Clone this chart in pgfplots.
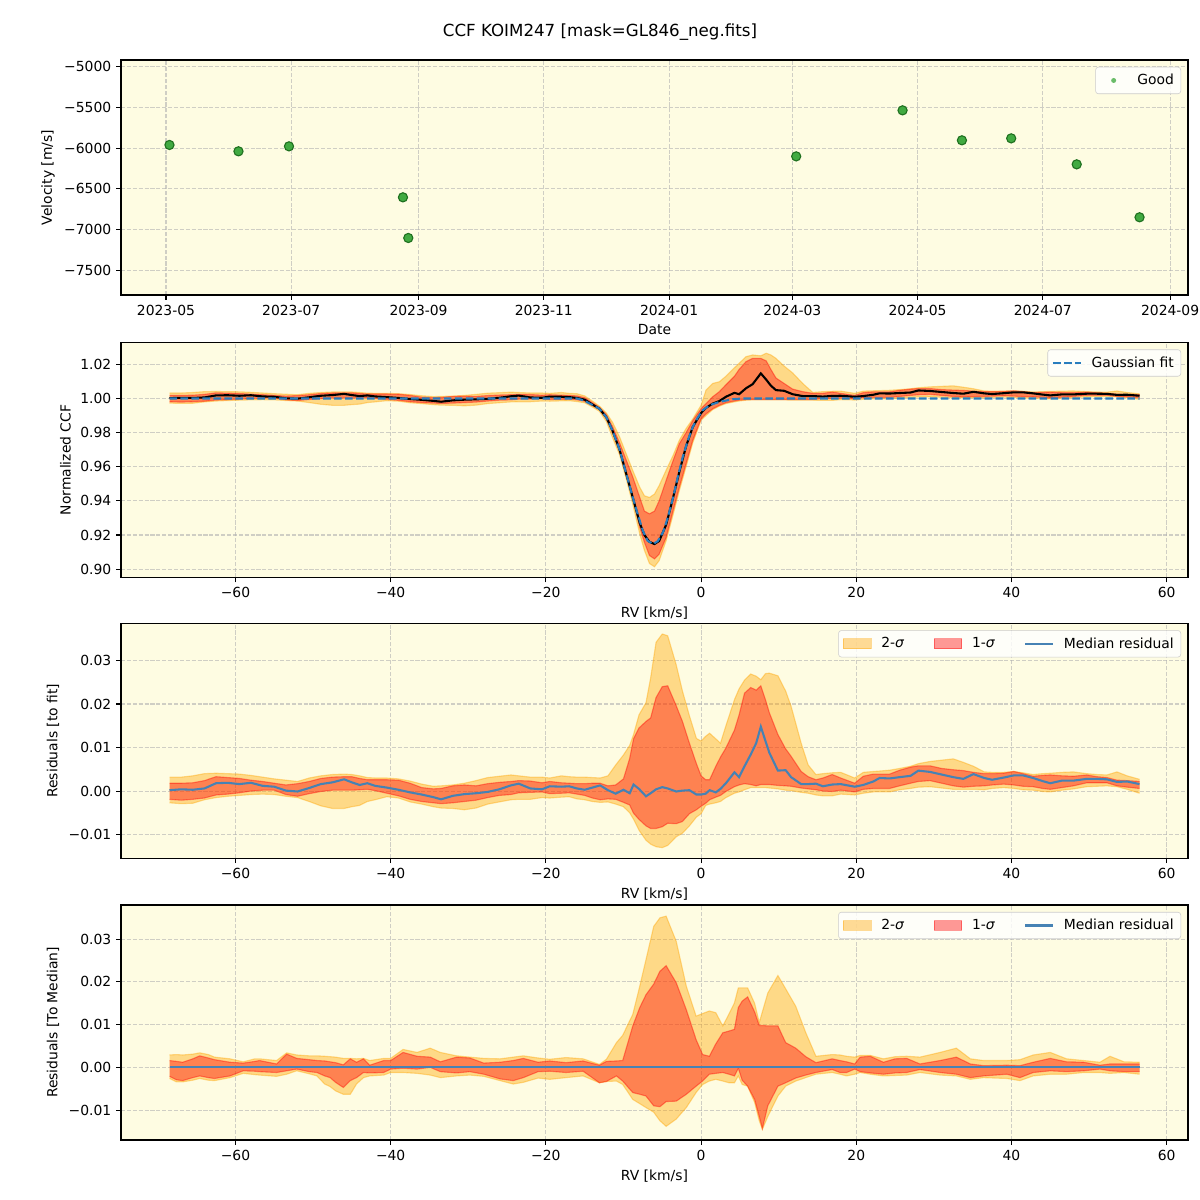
\documentclass[border=0pt]{standalone}
\usepackage{fontspec}
\setmainfont{DejaVu Sans}
\usepackage{pgfplots}
\pgfplotsset{compat=1.18}
\usepgfplotslibrary{fillbetween}
\usepackage{pgfplotstable}

\definecolor{bgc}{RGB}{254,252,226}
\definecolor{gridc}{RGB}{176,176,176}
\definecolor{bandO}{RGB}{255,165,0}
\definecolor{bandR}{RGB}{255,0,0}
\definecolor{medc}{RGB}{70,130,180}
\definecolor{fitc}{RGB}{40,125,190}
\definecolor{ptc}{RGB}{44,160,44}

\newcommand{\tf}{\fontsize{10}{12}\selectfont}

\pgfplotsset{
  panel/.style={
    scale only axis, width=768.24pt, height=169.2pt, anchor=south west,
    axis background/.style={fill=bgc},
    grid=major,
    major grid style={gridc, dash pattern=on 2.96pt off 1.28pt, line width=0.8pt, opacity=0.6},
    axis line style={line width=0.8pt},
    tick style={black, line width=0.8pt},
    major tick length=3.5pt,
    tick align=outside,
    tick pos=left,
    scaled y ticks=false, scaled x ticks=false,
    ticklabel style={font=\tf},
    label style={font=\tf},
    legend style={font=\tf, draw=black!20, fill=white, fill opacity=0.8, text opacity=1,
      rounded corners=2pt, at={(1,1)}, anchor=north east, xshift=-5pt, yshift=-5pt,
      inner sep=3pt,
      /tikz/every odd column/.append style={column sep=5pt}},
    legend cell align=left,
  },
  rvpanel/.style={
    panel, xmin=-74.75, xmax=62.75,
    xtick={-60,-40,-20,0,20,40,60},
    xticklabels={−60,−40,−20,0,20,40,60},
    xlabel={RV [km/s]},
  },
  band2/.style={bandO, draw opacity=0.4, line width=0.8pt, forget plot},
  band1/.style={bandR, draw opacity=0.4, line width=0.8pt, forget plot},
}

% Panel 2: CCF median and percentile bands
\pgfplotstableread{
x med lo1 hi1 lo2 hi2
-68.5 1.0002 0.9981 1.0018 0.9973 1.0032
-67 1.0004 0.9979 1.0018 0.9971 1.0032
-65.5 1.0003 0.9981 1.0019 0.9972 1.0035
-64 1.0006 0.9984 1.0024 0.9980 1.0040
-62.5 1.0018 0.9991 1.0033 0.9985 1.0041
-61 1.0019 0.9993 1.0031 0.9988 1.0040
-59.5 1.0016 0.9996 1.0029 0.9990 1.0039
-58 1.0019 1.0000 1.0025 0.9992 1.0036
-56.5 1.0012 1.0002 1.0022 0.9993 1.0032
-55 1.0010 1.0002 1.0018 0.9992 1.0028
-53.5 1.0001 0.9992 1.0014 0.9988 1.0025
-52 0.9999 0.9988 1.0017 0.9985 1.0022
-50.5 1.0007 0.9994 1.0022 0.9976 1.0030
-49 1.0016 0.9999 1.0029 0.9966 1.0035
-47.5 1.0020 1.0002 1.0032 0.9960 1.0038
-46 1.0027 1.0002 1.0033 0.9960 1.0039
-45 1.0020 1.0002 1.0033 0.9964 1.0038
-44 1.0014 1.0003 1.0029 0.9967 1.0035
-43 1.0018 1.0004 1.0026 0.9976 1.0031
-42 1.0012 1.0001 1.0026 0.9980 1.0030
-40.5 1.0008 0.9995 1.0026 0.9987 1.0030
-39 1.0003 0.9989 1.0025 0.9984 1.0028
-37.5 0.9997 0.9981 1.0018 0.9975 1.0023
-36 0.9992 0.9976 1.0008 0.9970 1.0016
-34.5 0.9986 0.9973 1.0005 0.9964 1.0011
-33.5 0.9981 0.9971 1.0006 0.9961 1.0012
-32 0.9989 0.9973 1.0012 0.9960 1.0014
-30.5 0.9993 0.9976 1.0014 0.9957 1.0018
-29 0.9995 0.9979 1.0012 0.9961 1.0024
-27.5 0.9998 0.9985 1.0017 0.9970 1.0031
-26 1.0004 0.9990 1.0020 0.9975 1.0034
-24.5 1.0013 0.9992 1.0022 0.9980 1.0037
-23.5 1.0017 0.9996 1.0024 0.9981 1.0035
-22 1.0006 0.9997 1.0023 0.9981 1.0032
-20.5 1.0004 0.9998 1.0019 0.9985 1.0032
-19.5 1.0011 0.9994 1.0022 0.9984 1.0030
-18 1.0010 0.9995 1.0019 0.9986 1.0035
-17 1.0008 0.9996 1.0018 0.9987 1.0030
-16 1.0003 0.9992 1.0015 0.9982 1.0028
-15 0.9993 0.9984 1.0005 0.9975 1.0015
-14 0.9965 0.9958 0.9975 0.9950 0.9985
-13.1 0.9940 0.9935 0.9948 0.9925 0.9955
-12.2 0.9890 0.9880 0.9905 0.9865 0.9915
-11.4 0.9810 0.9800 0.9835 0.9770 0.9860
-10.5 0.9700 0.9690 0.9740 0.9670 0.9775
-9.65 0.9560 0.9550 0.9640 0.9530 0.9676
-8.8 0.9420 0.9415 0.9540 0.9380 0.9578
-7.9 0.9270 0.9245 0.9420 0.9206 0.9480
-7.3 0.9200 0.9157 0.9340 0.9110 0.9430
-6.65 0.9160 0.9080 0.9324 0.9033 0.9420
-6.0 0.9147 0.9060 0.9340 0.9014 0.9440
-5.4 0.9165 0.9088 0.9400 0.9050 0.9490
-4.5 0.9260 0.9186 0.9520 0.9167 0.9580
-3.6 0.9420 0.9343 0.9637 0.9320 0.9667
-2.8 0.9570 0.9480 0.9735 0.9460 0.9755
-1.93 0.9720 0.9618 0.9800 0.9600 0.9824
-1.07 0.9833 0.9755 0.9870 0.9740 0.9880
0 0.9915 0.9880 0.9940 0.9873 0.9960
0.64 0.9945 0.9910 0.9970 0.9900 1.0049
1.5 0.9970 0.9940 1.0010 0.9935 1.0088
2.36 0.9985 0.9960 1.0040 0.9955 1.0098
3.2 1.0010 0.9975 1.0080 0.9970 1.0130
4.3 1.0033 0.9985 1.0130 0.9980 1.0180
4.9 1.0025 0.9990 1.0170 0.9985 1.0206
5.8 1.0060 0.9993 1.0216 0.9990 1.0245
6.65 1.0084 0.9994 1.0235 0.9992 1.0255
7.7 1.0147 0.9994 1.0235 0.9992 1.0250
8.4 1.0110 0.9994 1.0220 0.9992 1.0265
9.0 1.0075 0.9994 1.0170 0.9992 1.0255
9.65 1.0049 0.9994 1.0120 0.9992 1.0235
10.7 1.0045 0.9994 1.0088 0.9992 1.0190
11.8 1.0025 0.9994 1.0055 0.9990 1.0150
13.1 1.0014 0.9994 1.0040 0.9990 1.0088
14.4 1.0014 0.9994 1.0030 0.9990 1.0035
15.7 1.0011 1.0000 1.0030 0.9989 1.0040
16.9 1.0015 0.9999 1.0038 0.9989 1.0042
18 1.0016 1.0002 1.0030 0.9993 1.0043
19.8 1.0010 0.9998 1.0018 0.9991 1.0030
20.9 1.0014 1.0004 1.0034 0.9995 1.0043
22.2 1.0022 1.0006 1.0039 0.9998 1.0045
23 1.0030 1.0006 1.0039 0.9998 1.0046
24.3 1.0029 1.0006 1.0039 0.9998 1.0048
25.6 1.0032 1.0012 1.0048 1.0003 1.0052
27 1.0035 1.0018 1.0055 1.0006 1.0057
28 1.0047 1.0022 1.0058 1.0009 1.0063
29.5 1.0044 1.0024 1.0058 1.0010 1.0068
31 1.0038 1.0018 1.0052 1.0007 1.0071
32.5 1.0032 1.0012 1.0049 1.0004 1.0074
33.8 1.0028 1.0009 1.0047 1.0004 1.0066
35.1 1.0039 1.0011 1.0043 1.0004 1.0057
36.5 1.0030 1.0012 1.0040 1.0003 1.0044
37.5 1.0026 1.0014 1.0040 1.0006 1.0043
39 1.0031 1.0016 1.0041 1.0008 1.0043
40.3 1.0036 1.0014 1.0045 1.0006 1.0045
41.5 1.0036 1.0011 1.0040 1.0003 1.0042
42.8 1.0030 1.0010 1.0034 1.0002 1.0038
44 1.0023 1.0006 1.0036 0.9999 1.0040
45 1.0018 1.0004 1.0037 0.9998 1.0041
46.5 1.0024 1.0008 1.0035 1.0002 1.0043
48 1.0024 1.0012 1.0034 1.0005 1.0044
49.7 1.0028 1.0019 1.0037 1.0010 1.0040
51 1.0028 1.0019 1.0033 1.0011 1.0038
52.3 1.0027 1.0019 1.0031 1.0012 1.0037
53.6 1.0021 1.0012 1.0025 1.0010 1.0044
54.9 1.0022 1.0009 1.0024 1.0004 1.0035
56.5 1.0016 1.0006 1.0022 0.9995 1.0027
}\ccftab

% Gaussian fit
\pgfplotstableread{
x fit
-68.5 1.0
-16 1.0
-15.2 0.9990
-13.9 0.9960
-13.1 0.9940
-12.2 0.9890
-11.4 0.9810
-10.5 0.9700
-9.65 0.9560
-8.8 0.9420
-8.15 0.9320
-7.5 0.9225
-6.9 0.9167
-6.2 0.9147
-5.6 0.9163
-4.9 0.9216
-4.3 0.9300
-3.6 0.9420
-3.0 0.9540
-2.36 0.9657
-1.7 0.9755
-1.07 0.9833
-0.43 0.9888
0.21 0.9931
1.07 0.9960
2.36 0.9980
4.1 0.9996
5.4 1.0
56.5 1.0
}\fittab

% Panel 3: residuals to fit
\pgfplotstableread{
x med lo1 hi1 lo2 hi2
-68.5 0.0002 -0.0019 0.0018 -0.0027 0.0032
-67 0.0004 -0.0021 0.0018 -0.0029 0.0032
-65.5 0.0003 -0.0019 0.0019 -0.0028 0.0035
-64 0.0006 -0.0016 0.0024 -0.0020 0.0040
-62.5 0.0018 -0.0009 0.0033 -0.0015 0.0041
-61 0.0019 -0.0007 0.0031 -0.0012 0.0040
-59.5 0.0016 -0.0004 0.0029 -0.0010 0.0039
-58 0.0019 0.0000 0.0025 -0.0008 0.0036
-56.5 0.0012 0.0002 0.0022 -0.0007 0.0032
-55 0.0010 0.0002 0.0018 -0.0008 0.0028
-53.5 0.0001 -0.0008 0.0014 -0.0012 0.0025
-52 -0.0001 -0.0012 0.0017 -0.0015 0.0022
-50.5 0.0007 -0.0006 0.0022 -0.0024 0.0030
-49 0.0016 -0.0001 0.0029 -0.0034 0.0035
-47.5 0.0020 0.0002 0.0032 -0.0040 0.0038
-46 0.0027 0.0002 0.0033 -0.0040 0.0039
-45 0.0020 0.0002 0.0033 -0.0036 0.0038
-44 0.0014 0.0003 0.0029 -0.0033 0.0035
-43 0.0018 0.0004 0.0026 -0.0024 0.0031
-42 0.0012 0.0001 0.0026 -0.0020 0.0030
-40.5 0.0008 -0.0005 0.0026 -0.0013 0.0030
-39 0.0003 -0.0011 0.0025 -0.0016 0.0028
-37.5 -0.0003 -0.0019 0.0018 -0.0025 0.0023
-36 -0.0008 -0.0024 0.0008 -0.0030 0.0016
-34.5 -0.0014 -0.0027 0.0005 -0.0036 0.0011
-33.5 -0.0019 -0.0029 0.0006 -0.0039 0.0012
-32 -0.0011 -0.0027 0.0012 -0.0040 0.0014
-30.5 -0.0007 -0.0024 0.0014 -0.0043 0.0018
-29 -0.0005 -0.0021 0.0012 -0.0039 0.0024
-27.5 -0.0002 -0.0015 0.0017 -0.0030 0.0031
-26 0.0004 -0.0010 0.0020 -0.0025 0.0034
-24.5 0.0013 -0.0008 0.0022 -0.0020 0.0037
-23.5 0.0017 -0.0004 0.0024 -0.0019 0.0035
-22 0.0006 -0.0003 0.0023 -0.0019 0.0032
-20.5 0.0004 -0.0002 0.0019 -0.0015 0.0032
-19.5 0.0011 -0.0006 0.0022 -0.0016 0.0030
-18 0.0010 -0.0005 0.0019 -0.0014 0.0035
-17 0.0011 -0.0004 0.0018 -0.0013 0.0033
-16 0.0006 -0.0007 0.0017 -0.0018 0.0032
-15 0.0003 -0.0010 0.0017 -0.0020 0.0032
-14 0.0008 -0.0016 0.0018 -0.0024 0.0031
-13 0.0013 -0.0020 0.0018 -0.0026 0.0030
-12 0.0002 -0.0018 0.0012 -0.0025 0.0035
-11 -0.0006 -0.0019 0.0014 -0.0030 0.0060
-10 0.0003 -0.0026 0.0028 -0.0036 0.0083
-9.2 -0.0005 -0.0032 0.0075 -0.0050 0.0105
-8.7 0.0015 -0.0051 0.0120 -0.0065 0.0130
-8 0.0005 -0.0065 0.0145 -0.0090 0.0175
-7.1 -0.0012 -0.0080 0.0160 -0.0113 0.0203
-6.5 -0.0005 -0.0086 0.0168 -0.0122 0.0260
-5.8 0.0004 -0.0086 0.0215 -0.0128 0.0342
-5 0.0009 -0.0082 0.0240 -0.0130 0.0361
-4.3 0.0006 -0.0074 0.0242 -0.0125 0.0357
-3.2 -0.0001 -0.0075 0.0196 -0.0105 0.0290
-2.4 0.0001 -0.0070 0.0160 -0.0097 0.0230
-1.5 0.0002 -0.0052 0.0110 -0.0080 0.0173
-0.6 -0.0008 -0.0043 0.0063 -0.0060 0.0121
0 -0.0008 -0.0035 0.0035 -0.0052 0.0115
0.6 -0.0006 -0.0028 0.0026 -0.0033 0.0126
1.1 0.0002 -0.0020 0.0026 -0.0030 0.0133
1.9 -0.0003 -0.0014 0.0057 -0.0027 0.0120
2.5 0.0005 -0.0010 0.0078 -0.0024 0.0110
3.2 0.0018 -0.0001 0.0099 -0.0015 0.0150
4.3 0.0043 0.0010 0.0140 -0.0005 0.0210
4.9 0.0032 0.0014 0.0175 -0.0002 0.0235
5.6 0.0057 0.0017 0.0225 0.0003 0.0255
6.4 0.0084 0.0015 0.0238 0.0008 0.0269
7.1 0.0110 0.0012 0.0232 0.0008 0.0264
7.7 0.0148 0.0015 0.0242 0.0008 0.0256
8.3 0.0115 0.0015 0.0210 0.0008 0.0270
8.8 0.0088 0.0015 0.0180 0.0007 0.0271
9.9 0.0047 0.0013 0.0130 0.0005 0.0265
10.9 0.0048 0.0012 0.0097 0.0002 0.0230
11.6 0.0032 0.0011 0.0080 0.0001 0.0195
12.9 0.0016 0.0007 0.0045 -0.0003 0.0110
13.8 0.0016 0.0005 0.0033 -0.0005 0.0060
14.8 0.0017 0.0003 0.0026 -0.0009 0.0038
15.7 0.0011 0.0000 0.0030 -0.0011 0.0040
16.9 0.0015 -0.0001 0.0038 -0.0011 0.0042
18 0.0016 0.0002 0.0030 -0.0007 0.0043
19.8 0.0010 -0.0002 0.0018 -0.0009 0.0030
20.9 0.0014 0.0004 0.0034 -0.0005 0.0043
22.2 0.0022 0.0006 0.0039 -0.0002 0.0045
23 0.0030 0.0006 0.0039 -0.0002 0.0046
24.3 0.0029 0.0006 0.0039 -0.0002 0.0048
25.6 0.0032 0.0012 0.0048 0.0003 0.0052
27 0.0035 0.0018 0.0055 0.0006 0.0057
28 0.0047 0.0022 0.0058 0.0009 0.0063
29.5 0.0044 0.0024 0.0058 0.0010 0.0068
31 0.0038 0.0018 0.0052 0.0007 0.0071
32.5 0.0032 0.0012 0.0049 0.0004 0.0074
33.8 0.0028 0.0009 0.0047 0.0004 0.0066
35.1 0.0039 0.0011 0.0043 0.0004 0.0057
36.5 0.0030 0.0012 0.0040 0.0003 0.0044
37.5 0.0026 0.0014 0.0040 0.0006 0.0043
39 0.0031 0.0016 0.0041 0.0008 0.0043
40.3 0.0036 0.0014 0.0045 0.0006 0.0045
41.5 0.0036 0.0011 0.0040 0.0003 0.0042
42.8 0.0030 0.0010 0.0034 0.0002 0.0038
44 0.0023 0.0006 0.0036 -0.0001 0.0040
45 0.0018 0.0004 0.0037 -0.0002 0.0041
46.5 0.0024 0.0008 0.0035 0.0002 0.0043
48 0.0024 0.0012 0.0034 0.0005 0.0044
49.7 0.0028 0.0019 0.0037 0.0010 0.0040
51 0.0028 0.0019 0.0033 0.0011 0.0038
52.3 0.0027 0.0019 0.0031 0.0012 0.0037
53.6 0.0021 0.0012 0.0025 0.0010 0.0044
54.9 0.0022 0.0009 0.0024 0.0004 0.0035
56.5 0.0016 0.0006 0.0022 -0.0005 0.0027
}\restab

% Panel 4: residuals to median
\pgfplotstableread{
x med lo1 hi1 lo2 hi2
-68.5 0 -0.0021 0.0016 -0.0026 0.0029
-67.6 0 -0.0029 0.0014 -0.0034 0.0030
-66.8 0 -0.0031 0.0012 -0.0034 0.0029
-65.5 0 -0.0024 0.0020 -0.0030 0.0031
-64.6 0 -0.0020 0.0027 -0.0026 0.0034
-63.5 0 -0.0024 0.0022 -0.0030 0.0030
-62.7 0 -0.0026 0.0018 -0.0031 0.0024
-60.7 0 -0.0020 0.0012 -0.0024 0.0020
-59 0 -0.0008 0.0010 -0.0014 0.0013
-57.5 0 -0.0009 0.0014 -0.0017 0.0020
-56.9 0 -0.0010 0.0016 -0.0018 0.0020
-54.7 0 -0.0012 0.0008 -0.0021 0.0016
-53.4 0 -0.0008 0.0031 -0.0016 0.0034
-52.1 0 -0.0004 0.0021 -0.0008 0.0029
-50.5 0 -0.0010 0.0018 -0.0015 0.0027
-49.5 0 -0.0012 0.0016 -0.0020 0.0027
-48.5 0 -0.0020 0.0015 -0.0039 0.0026
-47.8 0 -0.0024 0.0013 -0.0045 0.0025
-47.1 0 -0.0035 0.0011 -0.0055 0.0024
-46.1 0 -0.0047 0.0006 -0.0063 0.0021
-45.2 0 -0.0031 0.0020 -0.0063 0.0021
-44.4 0 -0.0024 0.0012 -0.0039 0.0020
-43.5 0 -0.0012 0.0020 -0.0024 0.0021
-42.7 0 -0.0013 0.0005 -0.0020 0.0016
-40.9 0 -0.0012 0.0016 -0.0018 0.0021
-40 0 -0.0004 0.0016 -0.0012 0.0021
-38.4 0 -0.0002 0.0035 -0.0012 0.0042
-36.6 0 -0.0004 0.0026 -0.0014 0.0035
-34.9 0 0.0000 0.0024 -0.0018 0.0045
-33.6 0 -0.0010 0.0013 -0.0024 0.0035
-31.5 0 -0.0013 0.0024 -0.0020 0.0027
-29.8 0 -0.0010 0.0022 -0.0018 0.0024
-28 0 -0.0016 0.0010 -0.0021 0.0021
-25.9 0 -0.0027 0.0012 -0.0031 0.0020
-24.2 0 -0.0031 0.0016 -0.0039 0.0024
-22.9 0 -0.0024 0.0021 -0.0035 0.0027
-21 0 -0.0010 0.0012 -0.0025 0.0022
-19.5 0 -0.0009 0.0015 -0.0028 0.0019
-17.4 0 -0.0012 0.0011 -0.0024 0.0023
-15.2 0 -0.0009 0.0015 -0.0020 0.0020
-13.1 0 -0.0036 0.0005 -0.0036 0.0007
-12.2 0 -0.0033 0.0014 -0.0033 0.0019
-10.9 0 -0.0020 0.0015 -0.0032 0.0058
-10.1 0 -0.0032 0.0016 -0.0040 0.0075
-8.8 0 -0.0059 0.0097 -0.0075 0.0124
-7.9 0 -0.0063 0.0140 -0.0085 0.0190
-7.1 0 -0.0067 0.0170 -0.0094 0.0252
-6.1 0 -0.0090 0.0195 -0.0105 0.0330
-5.3 0 -0.0092 0.0225 -0.0125 0.0350
-4.5 0 -0.0080 0.0238 -0.0138 0.0354
-3.2 0 -0.0079 0.0198 -0.0121 0.0295
-1.9 0 -0.0063 0.0135 -0.0094 0.0190
-0.64 0 -0.0044 0.0065 -0.0059 0.0120
0.2 0 -0.0032 0.0030 -0.0040 0.0126
1.07 0 -0.0016 0.0026 -0.0032 0.0132
1.9 0 -0.0014 0.0055 -0.0028 0.0128
2.8 0 -0.0012 0.0081 -0.0032 0.0097
3.6 0 -0.0016 0.0085 -0.0036 0.0125
4.3 0 -0.0020 0.0089 -0.0036 0.0151
4.8 0 -0.0002 0.0140 -0.0020 0.0186
5.3 0 -0.0030 0.0155 -0.0040 0.0186
6 0 -0.0044 0.0165 -0.0044 0.0186
6.9 0 -0.0075 0.0130 -0.0082 0.0150
7.5 0 -0.0115 0.0098 -0.0125 0.0105
7.9 0 -0.0143 0.0098 -0.0145 0.0130
8.6 0 -0.0090 0.0097 -0.0115 0.0174
9.9 0 -0.0044 0.0097 -0.0067 0.0215
10.9 0 -0.0036 0.0058 -0.0044 0.0184
12.2 0 -0.0025 0.0045 -0.0032 0.0143
13.5 0 -0.0018 0.0025 -0.0024 0.0081
14.8 0 -0.0012 0.0011 -0.0016 0.0026
16.9 0 -0.0005 0.0020 -0.0012 0.0030
17.9 0 -0.0012 0.0016 -0.0016 0.0029
18.75 0 -0.0012 0.0013 -0.0020 0.0026
19.8 0 -0.0004 0.0008 -0.0016 0.0024
20.5 0 -0.0010 0.0024 -0.0012 0.0028
21.8 0 -0.0013 0.0026 -0.0016 0.0028
23.5 0 -0.0016 0.0012 -0.0020 0.0020
25 0 -0.0013 0.0020 -0.0019 0.0025
26.5 0 -0.0012 0.0021 -0.0018 0.0026
28.2 0 -0.0005 0.0008 -0.0012 0.0024
30.8 0 -0.0012 0.0016 -0.0018 0.0035
32.9 0 -0.0016 0.0024 -0.0020 0.0045
34.7 0 -0.0024 0.0008 -0.0028 0.0020
36.4 0 -0.0020 0.0004 -0.0024 0.0016
39.4 0 -0.0016 0.0005 -0.0026 0.0016
41.1 0 -0.0024 0.0004 -0.0031 0.0018
42.8 0 -0.0012 0.0012 -0.0020 0.0029
45 0 -0.0008 0.0021 -0.0016 0.0035
47.1 0 -0.0010 0.0013 -0.0016 0.0020
49.3 0 -0.0008 0.0012 -0.0012 0.0016
51.4 0 -0.0004 0.0005 -0.0012 0.0012
52.7 0 -0.0008 0.0008 -0.0014 0.0026
54.5 0 -0.0010 0.0008 -0.0012 0.0013
56.5 0 -0.0010 0.0008 -0.0016 0.0012
}\medtab

\newcommand{\bandlegend}{%
  \addlegendimage{legend image code/.code={\fill[sharp corners, draw=none, bandO, fill opacity=0.4] (0pt,-3.5pt) rectangle (20pt,3.5pt); \draw[sharp corners, bandO, opacity=0.4, line width=0.8pt] (0pt,-3.5pt) rectangle (20pt,3.5pt);}}
  \addlegendentry{2-\textit{σ}}
  \addlegendimage{legend image code/.code={\fill[sharp corners, draw=none, bandR, fill opacity=0.4] (0pt,-3.5pt) rectangle (20pt,3.5pt); \draw[sharp corners, bandR, opacity=0.4, line width=0.8pt] (0pt,-3.5pt) rectangle (20pt,3.5pt);}}
  \addlegendentry{1-\textit{σ}}
  \addlegendimage{legend image code/.code={\draw[medc, line width=1.5pt] (0pt,0pt) -- (20pt,0pt);}}
  \addlegendentry{Median residual}
}

\newcommand{\bands}[1]{%
  \addplot[band2, name path=H2] table[x=x, y=hi2] {#1};
  \addplot[band2, name path=L2] table[x=x, y=lo2] {#1};
  \addplot[fill=bandO, fill opacity=0.4, draw=none, forget plot] fill between[of=H2 and L2];
  \addplot[band1, name path=H1] table[x=x, y=hi1] {#1};
  \addplot[band1, name path=L1] table[x=x, y=lo1] {#1};
  \addplot[fill=bandR, fill opacity=0.4, draw=none, forget plot] fill between[of=H1 and L1];
}

\begin{document}
\begin{tikzpicture}
\node[font=\fontsize{12}{14}\selectfont] at (432pt,-23pt) {CCF KOIM247 [mask=GL846\_neg.fits]};

% ---------- Panel 1 ----------
\begin{axis}[panel, at={(87.12pt,-212.4pt)},
  xmin=-21.9, xmax=497.7, ymin=-7803, ymax=-4918,
  xtick={0,61,123,184,245,305,366,427,489},
  xticklabels={2023-05,2023-07,2023-09,2023-11,2024-01,2024-03,2024-05,2024-07,2024-09},
  ytick={-7500,-7000,-6500,-6000,-5500,-5000},
  yticklabels={−7500,−7000,−6500,−6000,−5500,−5000},
  xlabel={Date}, ylabel={Velocity [m/s]}]
\addlegendimage{legend image code/.code={\path[draw=none, fill=none] (0pt,-3pt) rectangle (20pt,3pt); \fill[draw=none, ptc, opacity=0.7] (10pt,0pt) circle (1.8pt);}}
\addlegendentry{Good}
\addplot[only marks, mark=*, mark size=3.3pt, mark options={fill=ptc!90!white, draw=ptc!70!black, line width=0.8pt}, forget plot]
  coordinates {(1.7,-5961) (35.3,-6039) (59.9,-5978) (115.4,-6604) (118.0,-7103) (306.9,-6101) (358.7,-5536) (387.6,-5904) (411.6,-5880) (443.5,-6199) (474.1,-6849)};
\end{axis}

% ---------- Panel 2 ----------
\begin{axis}[rvpanel, at={(87.12pt,-415.8pt)},
  ymin=0.8951, ymax=1.0328,
  ytick={0.90,0.92,0.94,0.96,0.98,1.00,1.02},
  yticklabels={0.90,0.92,0.94,0.96,0.98,1.00,1.02},
  ylabel={Normalized CCF}]
\addlegendimage{legend image code/.code={\draw[fitc, line width=1.5pt, dash pattern=on 5.5pt off 2.4pt] (0pt,0pt) -- (20pt,0pt);}}
\addlegendentry{Gaussian fit}
\bands{\ccftab}
\addplot[black, line width=1.5pt, forget plot] table[x=x, y=med] {\ccftab};
\addplot[fitc, line width=1.5pt, dash pattern=on 5.5pt off 2.4pt, forget plot] table[x=x, y=fit] {\fittab};
\end{axis}

% ---------- Panel 3 ----------
\begin{axis}[rvpanel, at={(87.12pt,-617.98pt)},
  ymin=-0.01546, ymax=0.03856,
  ytick={-0.01,0,0.01,0.02,0.03},
  yticklabels={−0.01,0.00,0.01,0.02,0.03},
  ylabel={Residuals [to fit]},
  legend columns=3,
  legend style={/tikz/every even column/.append style={column sep=19pt}}]
\bandlegend
\bands{\restab}
\addplot[medc, line width=1.5pt, forget plot] table[x=x, y=med] {\restab};
\end{axis}

% ---------- Panel 4 ----------
\begin{axis}[rvpanel, at={(87.12pt,-820.8pt)},
  ymin=-0.0170, ymax=0.0380,
  ytick={-0.01,0,0.01,0.02,0.03},
  yticklabels={−0.01,0.00,0.01,0.02,0.03},
  ylabel={Residuals [To Median]},
  legend columns=3,
  legend style={/tikz/every even column/.append style={column sep=19pt}}]
\bandlegend
\bands{\medtab}
\addplot[medc, line width=1.6pt, forget plot] table[x=x, y=med] {\medtab};
\end{axis}

\pgfresetboundingbox
\path[use as bounding box] (0pt,0pt) rectangle (864pt,-864pt);
\end{tikzpicture}
\end{document}
